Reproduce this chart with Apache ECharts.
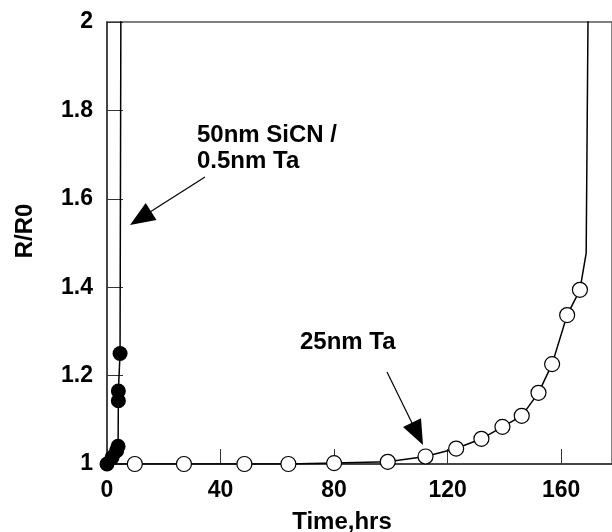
<!DOCTYPE html>
<html>
<head>
<meta charset="utf-8">
<script src="https://cdn.jsdelivr.net/npm/echarts@6/dist/echarts.min.js"></script>
<style>
  html, body { margin: 0; padding: 0; background: #fff; }
  #main { width: 612px; height: 532px; }
</style>
</head>
<body>
<div id="main"></div>
<script>
// 25nm Ta : open circles
const taTime  = [9.8, 27.1, 48.4, 63.9, 80, 98.9, 112.2, 123, 131.9, 139.3, 146.1, 152, 156.8, 162.1, 166.6];
const taRatio = [1.0, 1.0, 1.0, 1.0, 1.002, 1.005, 1.017, 1.035, 1.057, 1.084, 1.109, 1.161, 1.226, 1.337, 1.394];
// line continues past last marker (failure)
const taTailTime  = [168.8, 169.5];
const taTailRatio = [1.477, 2.05];

// 50nm SiCN / 0.5nm Ta : filled circles
const sicnTime  = [0, 1.8, 3.4, 3.9, 4.0, 4.0, 4.6];
const sicnRatio = [1.0, 1.015, 1.03, 1.04, 1.143, 1.165, 1.25];
const sicnTailTime  = [4.9];
const sicnTailRatio = [2.05];

const xTicks = [0, 40, 80, 120, 160];
const yTicks = [1, 1.2, 1.4, 1.6, 1.8, 2];

const zip = (xs, ys) => xs.map((x, i) => [x, ys[i]]);

const FONT = 'Liberation Sans';
const TICK_FS = 23;
const TEXT_FS = 24;

const chartDom = document.getElementById('main');
const myChart = echarts.init(chartDom);

const option = {
    animation: false,
    grid: {
        left: 107, top: 22, right: -2, bottom: 68,
        show: true, borderColor: '#555', borderWidth: 1.5
    },
    xAxis: {
        type: 'value',
        min: 0,
        max: 177.9,
        interval: 40,
        splitLine: { show: false },
        axisLine: { lineStyle: { color: '#333', width: 1.5 } },
        axisTick: { inside: true, length: 15, lineStyle: { color: '#333', width: 1 } },
        axisLabel: {
            showMaxLabel: false,
            margin: 15,
            color: '#000',
            fontFamily: FONT,
            fontWeight: 'bold',
            fontSize: TICK_FS,
            formatter: (v) => xTicks.includes(v) ? String(v) : ''
        }
    },
    yAxis: {
        type: 'value',
        min: 1,
        max: 2,
        interval: 0.2,
        splitLine: { show: false },
        axisLine: { show: true, lineStyle: { color: '#333', width: 1.5 } },
        axisTick: { show: true, inside: true, length: 16, lineStyle: { color: '#333', width: 1 } },
        axisLabel: {
            margin: 14,
            color: '#000',
            fontFamily: FONT,
            fontWeight: 'bold',
            fontSize: TICK_FS,
            formatter: (v) => {
                const t = yTicks.find((y) => Math.abs(y - v) < 1e-6);
                return t === undefined ? '' : String(t);
            }
        }
    },
    series: [
        {
            name: '25nm Ta line',
            type: 'line',
            data: [[0, 1.0]].concat(zip(taTime, taRatio), zip(taTailTime, taTailRatio)),
            symbol: 'none',
            lineStyle: { color: '#000', width: 1.5 },
            z: 2
        },
        {
            name: '25nm Ta',
            type: 'scatter',
            data: zip(taTime, taRatio),
            symbol: 'circle',
            symbolSize: 15,
            itemStyle: { color: '#fff', borderColor: '#000', borderWidth: 1.2, opacity: 1 },
            z: 3
        },
        {
            name: '50nm SiCN line',
            type: 'line',
            data: zip(sicnTime, sicnRatio).concat(zip(sicnTailTime, sicnTailRatio)),
            symbol: 'none',
            lineStyle: { color: '#000', width: 1.5 },
            z: 4
        },
        {
            name: '50nm SiCN / 0.5nm Ta',
            type: 'scatter',
            data: zip(sicnTime, sicnRatio),
            symbol: 'circle',
            symbolSize: 15,
            itemStyle: { color: '#000', opacity: 1 },
            z: 5
        }
    ],
    graphic: [
        {
            type: 'text', x: 342, y: 522,
            style: { text: 'Time,hrs', fill: '#000', font: 'bold ' + TEXT_FS + 'px ' + FONT, align: 'center', verticalAlign: 'middle' }
        },
        {
            type: 'text', x: 25, y: 231, rotation: Math.PI / 2,
            style: { text: 'R/R0', fill: '#000', font: 'bold ' + TEXT_FS + 'px ' + FONT, align: 'center', verticalAlign: 'middle' }
        },
        {
            type: 'text', x: 197, y: 135,
            style: { text: '50nm SiCN /', fill: '#000', font: 'bold ' + TEXT_FS + 'px ' + FONT, verticalAlign: 'middle' }
        },
        {
            type: 'text', x: 197, y: 161,
            style: { text: '0.5nm Ta', fill: '#000', font: 'bold ' + TEXT_FS + 'px ' + FONT, verticalAlign: 'middle' }
        },
        {
            type: 'text', x: 300, y: 342,
            style: { text: '25nm Ta', fill: '#000', font: 'bold ' + TEXT_FS + 'px ' + FONT, verticalAlign: 'middle' }
        },
        {
            type: 'line',
            shape: { x1: 205, y1: 177, x2: 150, y2: 212 },
            style: { stroke: '#000', lineWidth: 1.2 }
        },
        {
            type: 'polygon',
            shape: { points: [[130, 225], [156.5, 219.9], [145.7, 203.1]] },
            style: { fill: '#000' }
        },
        {
            type: 'line',
            shape: { x1: 387, y1: 372, x2: 412, y2: 423 },
            style: { stroke: '#000', lineWidth: 1.2 }
        },
        {
            type: 'polygon',
            shape: { points: [[423, 445], [403, 427], [421, 418.2]] },
            style: { fill: '#000' }
        }
    ]
};

myChart.setOption(option);
</script>
</body>
</html>
